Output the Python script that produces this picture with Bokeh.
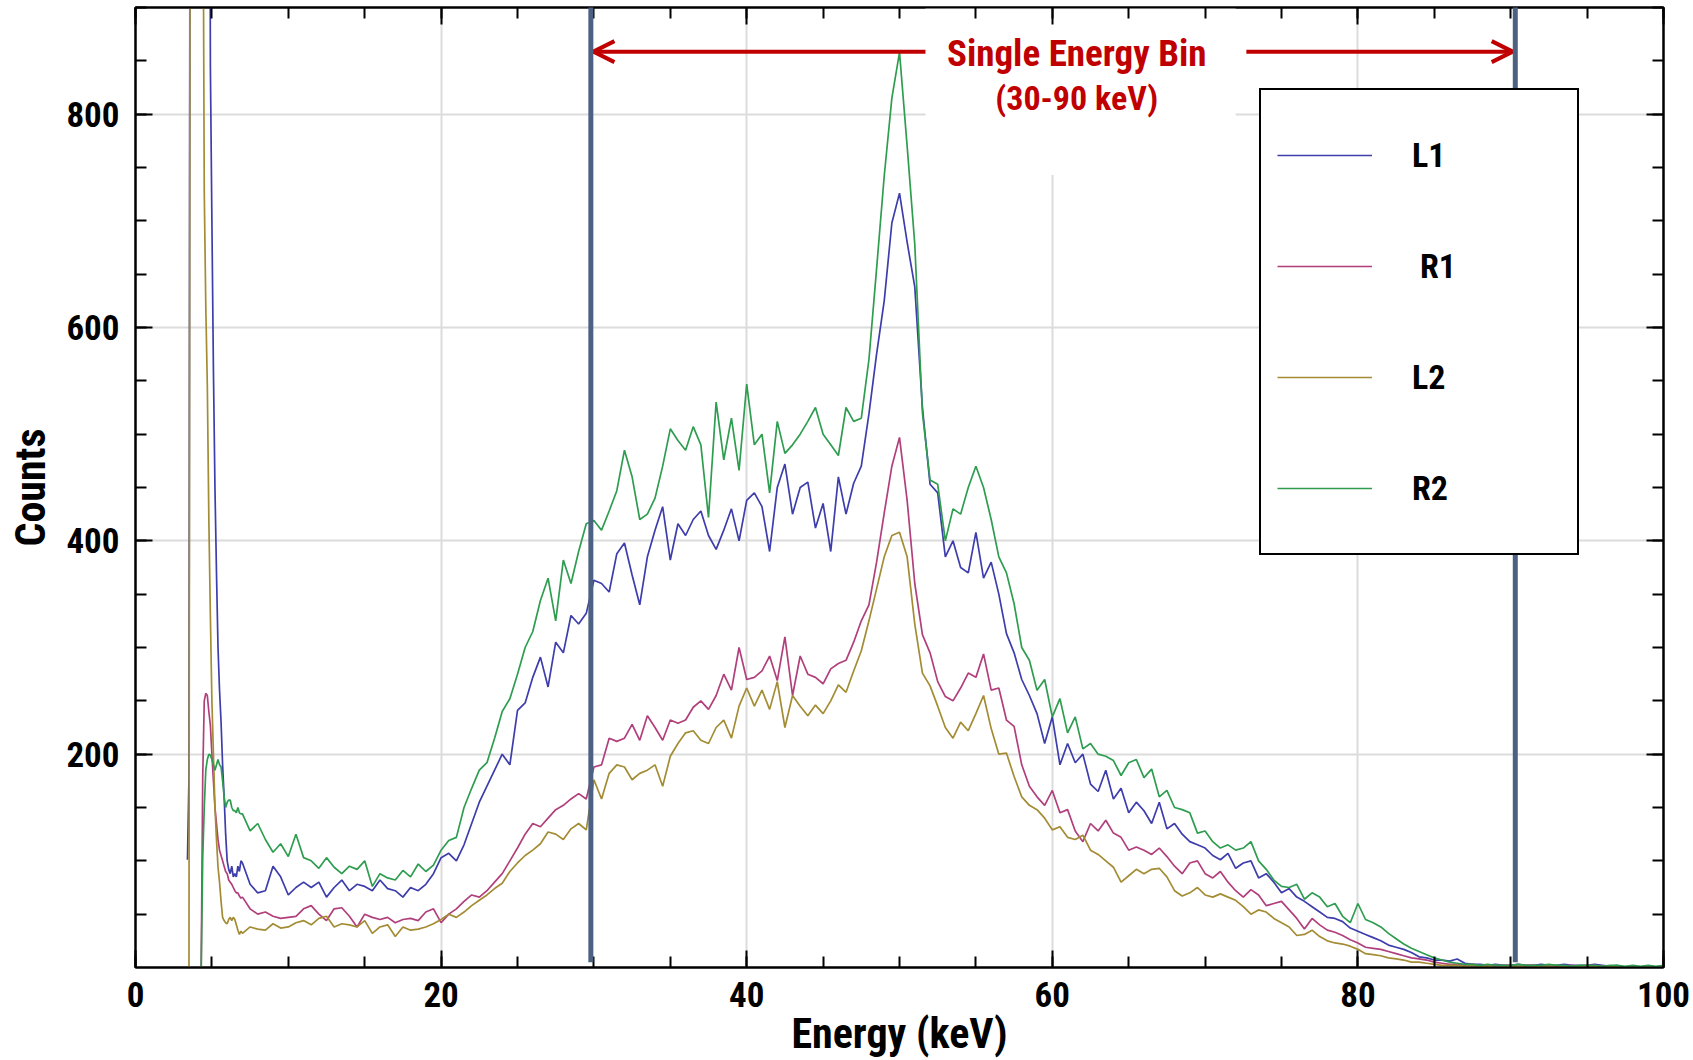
import numpy as np
from bokeh.plotting import figure
from bokeh.models import (ColumnDataSource, LinearAxis, FixedTicker, SingleIntervalTicker,
                          Legend, LegendItem, Label, Arrow, OpenHead, CustomJSTickFormatter, Range1d)
from bokeh.embed import file_html
from bokeh.resources import INLINE

nan = float("nan")

# ---------------- data ----------------
# energy bins (keV): fine bins at the low-energy edge, 0.5 keV afterwards
energy_low = [round(3.4 + 0.1 * i, 1) for i in range(36)]      # 3.4 .. 6.9
energy_main = [round(7.0 + 0.5 * i, 1) for i in range(187)]    # 7.0 .. 100.0
energy = energy_low + energy_main

L1_low = [101, 179, 1500, 1500, 1500, 1500, 1500, 1500, 1500, 1500, 1500, 1500, 1500, 1500, 1500,
          847, 700, 560, 450, 370, 300, 260, 230, 190, 160, 125, 100, 92, 88, 95, 85, 88, 85, 95, 90, 100]
R1_low = [nan, nan, nan, nan, nan, nan, nan, nan, nan, 0, 179, 250, 257, 255, 240, 227, 200, 175,
          150, 135, 120, 110, 105, 100, 95, 90, 88, 82, 80, 78, 75, 72, 70, 70, 67, 65]
L2_low = [nan, 0, 1500, 1500, 1500, 1500, 1500, 1500, 1500, 1500, 1100, 728, 620, 546, 420, 330,
          250, 200, 150, 120, 94, 80, 62, 47, 44, 42, 41, 45, 47, 44, 47, 45, 40, 35, 31, 34]
R2_low = [nan, nan, nan, nan, nan, nan, nan, nan, nan, 0, 103, 150, 185, 195, 200, 199, 195, 190,
          185, 190, 195, 190, 188, 175, 160, 150, 155, 157, 157, 150, 147, 147, 145, 150, 145, 144]

L1_main = [98, 78, 70, 72, 95, 85, 68, 75, 80, 75,
           80, 66, 75, 82, 72, 78, 76, 72, 82, 74,
           72, 66, 75, 72, 78, 88, 103, 107, 100, 115,
           135, 155, 170, 185, 200, 190, 241, 248, 272, 291,
           263, 305, 295, 330, 322, 332, 363, 360, 352, 388,
           398, 368, 340, 385, 410, 432, 382, 416, 405, 420,
           428, 405, 392, 410, 430, 400, 438, 445, 432, 390,
           450, 472, 425, 450, 455, 412, 435, 390, 460, 425,
           454, 470, 519, 575, 625, 698, 726, 680, 638, 525,
           453, 445, 385, 400, 375, 370, 408, 365, 380, 350,
           313, 295, 270, 255, 238, 210, 235, 190, 210, 192,
           200, 172, 165, 185, 158, 168, 145, 155, 147, 135,
           155, 130, 135, 125, 118, 115, 112, 105, 101, 107,
           93, 98, 100, 84, 88, 80, 70, 74, 66, 62,
           57, 52, 47, 46, 43, 37, 34, 31, 28, 25,
           21, 19, 17, 14, 10, 9, 7, 7, 6, 8,
           4, 3, 3, 2, 3, 2, 2, 3, 2, 2,
           3, 2, 2, 3, 2, 2, 2, 3, 2, 1,
           2, nan, nan, nan, nan, nan, nan]
R1_main = [66, 55, 50, 52, 48, 46, 47, 48, 55, 58,
           50, 44, 55, 56, 48, 38, 50, 47, 45, 47,
           42, 45, 46, 44, 52, 55, 42, 50, 55, 62,
           68, 66, 72, 80, 88, 100, 112, 125, 135, 132,
           140, 148, 152, 158, 163, 158, 188, 190, 215, 212,
           215, 228, 213, 236, 225, 213, 232, 229, 232, 244,
           250, 242, 255, 275, 260, 300, 270, 272, 278, 292,
           269, 310, 255, 292, 275, 272, 266, 280, 285, 288,
           305, 325, 340, 380, 426, 470, 497, 438, 360, 312,
           295, 268, 254, 250, 262, 276, 272, 294, 260, 262,
           232, 226, 190, 170, 160, 152, 166, 145, 148, 128,
           118, 135, 128, 138, 126, 122, 110, 113, 110, 106,
           112, 104, 95, 88, 98, 100, 88, 84, 90, 80,
           72, 66, 73, 68, 58, 60, 62, 54, 46, 36,
           46, 40, 35, 33, 30, 26, 23, 19, 18, 17,
           15, 13, 11, 9, 8, 7, 5, 4, 3, 3,
           2, 3, 2, 2, 1, 2, 2, 1, 2, 2,
           1, 2, 1, 1, 2, 1, 1, 2, 1, 1,
           1, nan, nan, nan, nan, nan, nan]
L2_main = [32, 38, 36, 35, 41, 37, 38, 42, 44, 40,
           46, 48, 38, 41, 40, 38, 44, 32, 38, 40,
           29, 38, 35, 36, 38, 41, 45, 50, 47, 52,
           58, 63, 68, 74, 79, 90, 98, 105, 110, 116,
           127, 125, 120, 130, 135, 129, 176, 158, 182, 190,
           188, 176, 182, 185, 190, 170, 198, 210, 220, 222,
           213, 210, 225, 232, 215, 245, 262, 245, 260, 242,
           268, 225, 255, 245, 236, 246, 238, 250, 265, 258,
           278, 297, 325, 355, 385, 405, 408, 385, 322, 276,
           264, 245, 225, 215, 230, 222, 238, 255, 224, 200,
           201, 179, 160, 152, 148, 140, 129, 132, 122, 120,
           124, 110, 106, 100, 94, 80, 86, 92, 88, 92,
           93, 85, 72, 67, 70, 75, 68, 66, 69, 66,
           63, 57, 50, 54, 52, 46, 42, 38, 30, 31,
           35, 29, 25, 23, 22, 20, 17, 13, 12, 11,
           9, 8, 7, 5, 5, 4, 3, 2, 2, 2,
           1, 2, 1, 1, 2, 1, 1, 1, 2, 1,
           1, 1, 2, 1, 1, 1, 2, 1, 1, 1,
           1, nan, nan, nan, nan, nan, nan]
R2_main = [144, 128, 135, 120, 108, 116, 104, 125, 103, 100,
           93, 103, 94, 88, 95, 92, 100, 76, 88, 84,
           82, 91, 85, 97, 90, 96, 110, 119, 122, 150,
           168, 185, 192, 215, 240, 252, 275, 300, 315, 344,
           365, 325, 382, 360, 390, 416, 419, 410, 428, 447,
           485, 460, 420, 425, 440, 470, 505, 494, 485, 507,
           490, 422, 530, 476, 515, 466, 547, 490, 500, 445,
           512, 482, 490, 500, 512, 525, 500, 490, 480, 525,
           512, 515, 570, 655, 742, 815, 858, 770, 678, 520,
           457, 453, 400, 430, 425, 450, 470, 450, 420, 385,
           370, 341, 300, 288, 260, 270, 235, 252, 220, 235,
           205, 210, 200, 198, 194, 180, 192, 195, 178, 186,
           160, 166, 150, 148, 145, 126, 128, 118, 112, 115,
           110, 112, 118, 100, 92, 82, 76, 75, 78, 64,
           70, 66, 57, 60, 48, 42, 60, 45, 42, 38,
           32, 27, 22, 18, 15, 12, 9, 7, 5, 4,
           3, 3, 2, 3, 2, 2, 2, 3, 2, 2,
           2, 3, 2, 2, 1, 2, 2, 2, 1, 2,
           2, 1, 2, 1, 2, 1, 2]

series_names = ["L1", "R1", "L2", "R2"]
series_values = [L1_low + L1_main, R1_low + R1_main, L2_low + L2_main, R2_low + R2_main]
legend_labels = ["L1", "\u2005R1", "L2", "R2"]

bin_edges = [29.8, 90.3]          # single energy bin limits (keV)
bin_text = ["Single Energy Bin", "(30-90 keV)"]

# ---------------- style ----------------
FONT = "Liberation Sans Narrow, Arial Narrow, Roboto Condensed, sans-serif"
COLORS = ["#3d3dac", "#b03f7c", "#a38c34", "#2f9d50"]
RED = "#c00000"
EDGE = "#4d6282"

p = figure(width=1690, height=1060, x_range=Range1d(0, 100), y_range=Range1d(0, 900),
           output_backend="svg", toolbar_location=None,
           min_border_left=135, min_border_right=27, min_border_top=7, min_border_bottom=93,
           background_fill_color="white", border_fill_color="white")
p.outline_line_color = "black"
p.outline_line_width = 2

xt = SingleIntervalTicker(interval=20, num_minor_ticks=4)
yt = FixedTicker(ticks=[200, 400, 600, 800], minor_ticks=list(range(50, 901, 50)))
p.xaxis[0].ticker = xt
p.yaxis[0].ticker = yt
p.xgrid.ticker = xt
p.ygrid.ticker = yt
for g in (p.xgrid[0], p.ygrid[0]):
    g.grid_line_color = "#dcdcdc"
    g.grid_line_width = 2


def style_axis(ax):
    ax.axis_line_color = "black"
    ax.axis_line_width = 2
    ax.major_tick_in = 17
    ax.major_tick_out = 0
    ax.minor_tick_in = 11
    ax.minor_tick_out = 0
    ax.major_tick_line_color = "black"
    ax.minor_tick_line_color = "black"
    ax.major_tick_line_width = 2
    ax.minor_tick_line_width = 2
    ax.major_label_text_font = FONT
    ax.major_label_text_font_style = "bold"
    ax.major_label_text_font_size = "35px"
    ax.major_label_text_color = "black"
    ax.axis_label_text_font = FONT
    ax.axis_label_text_font_style = "bold"
    ax.axis_label_text_font_size = "42px"
    ax.axis_label_text_color = "black"


style_axis(p.xaxis[0])
style_axis(p.yaxis[0])
p.xaxis[0].axis_label = "Energy (keV)"
p.yaxis[0].axis_label = "Counts"
p.xaxis[0].major_label_standoff = 14
p.yaxis[0].major_label_standoff = 16
p.xaxis[0].axis_label_standoff = -1
p.yaxis[0].axis_label_standoff = 8

blank = CustomJSTickFormatter(code="return ''")
top_axis = LinearAxis(ticker=xt, formatter=blank)
right_axis = LinearAxis(ticker=yt, formatter=blank)
for ax in (top_axis, right_axis):
    style_axis(ax)
    ax.major_label_text_font_size = "0px"
    ax.major_label_standoff = 0
p.add_layout(top_axis, "above")
p.add_layout(right_axis, "right")

# white box behind the annotation text (hides grid)
p.quad(left=[51.7], right=[72.0], bottom=[743], top=[905], fill_color="white", line_color=None)

source = ColumnDataSource({"energy": np.array(energy, dtype=float),
                           **{n: np.array(v, dtype=float) for n, v in zip(series_names, series_values)}})
renderers = []
for n, c in zip(series_names, COLORS):
    r = p.line("energy", n, source=source, line_color=c, line_width=1.7)
    renderers.append(r)

legend = Legend(items=[LegendItem(label=lab, renderers=[r]) for lab, r in zip(legend_labels, renderers)],
                location=(1124, 412), margin=0, padding=16, spacing=13,
                glyph_width=95, glyph_height=98, label_height=98, label_width=149, label_standoff=40,
                border_line_color="black", border_line_width=2, border_line_alpha=1.0,
                background_fill_color="white", background_fill_alpha=1.0,
                label_text_font=FONT, label_text_font_style="bold", label_text_font_size="34px",
                label_text_color="black", label_text_baseline="middle")
p.add_layout(legend)

# arrows of the energy bin
arrow_y = 858.6
p.add_layout(Arrow(end=OpenHead(size=21, line_color=RED, line_width=4),
                   x_start=51.7, y_start=arrow_y, x_end=bin_edges[0] + 0.17, y_end=arrow_y,
                   line_color=RED, line_width=4))
p.add_layout(Arrow(end=OpenHead(size=21, line_color=RED, line_width=4),
                   x_start=72.7, y_start=arrow_y, x_end=bin_edges[1] - 0.17, y_end=arrow_y,
                   line_color=RED, line_width=4))
for txt, ty, fs in zip(bin_text, [857, 815], ["37px", "34px"]):
    p.add_layout(Label(x=61.6, y=ty, text=txt, text_align="center", text_baseline="middle",
                       text_color=RED, text_font=FONT, text_font_style="bold", text_font_size=fs))

# bin limit lines drawn over everything
p.segment(x0=bin_edges, y0=[5, 5], x1=bin_edges, y1=[900, 900], line_color=EDGE, line_width=5,
          level="overlay")

open("out.html", "w").write(file_html(p, INLINE))
